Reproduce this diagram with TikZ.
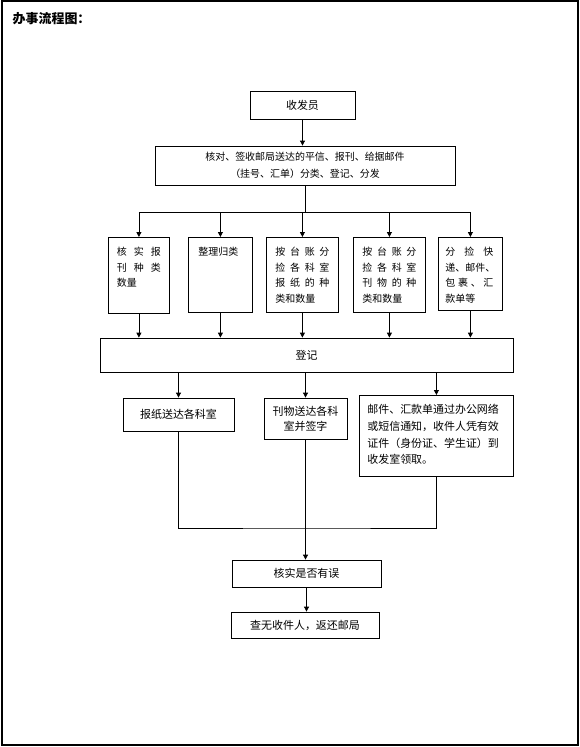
\documentclass[tikz,border=0pt]{standalone}
\usepackage{fontspec}
\setmainfont{Noto Sans CJK SC}
\usetikzlibrary{arrows.meta}
\usetikzlibrary{calc}

% top aligned text in a box of fixed size
\newcommand{\tbox}[3]{\parbox[c][#2][t]{#1}{#3}}
% one line spread over a given width
\newcommand{\jl}[2]{\makebox[#1][s]{#2}}

\begin{document}
\begin{tikzpicture}[x=1bp, y=-1bp, line width=0.8bp]
\tikzstyle{box}=[draw, inner sep=0pt, font=\fontsize{11}{15}\selectfont]
\tikzstyle{kbox}=[box, anchor=north west, inner ysep=10bp, font=\fontsize{10}{15.5}\selectfont]
\tikzstyle{arr}=[-{Triangle[width=5bp,length=5bp]}]
\useasboundingbox (0,0) rectangle (580,747);
\draw[line width=1.2bp] (2,1) rectangle (578,745);
\node[anchor=west, font=\bfseries\fontsize{13}{13}\selectfont] (title) at (9,19) {办事流程图：};

\node[box, minimum width=105bp, minimum height=28bp] (shou) at (302.5,105) {收发员};
\node[box, minimum width=300bp, minimum height=39bp, align=center, font=\fontsize{10}{17}\selectfont] (hedui) at (305,165.5)
  {核对、签收邮局送达的平信、报刊、给据邮件\\（挂号、汇单）分类、登记、分发};

\node[kbox, inner xsep=8.5bp] (k1) at (108,237) {\tbox{44bp}{56bp}{%
  \jl{44bp}{核\hfill 实\hfill 报}\\\jl{44bp}{刊\hfill 种\hfill 类}\\数量}};
\node[kbox, inner xsep=10bp] (k2) at (188,237) {\tbox{44bp}{55bp}{整理归类}};
\node[kbox, inner xsep=9bp] (k3) at (266,237) {\tbox{54bp}{55bp}{%
  \jl{54bp}{按\hfill 台\hfill 账\hfill 分}\\\jl{54bp}{捡\hfill 各\hfill 科\hfill 室}\\%
  \jl{54bp}{报\hfill 纸\hfill 的\hfill 种}\\类和数量}};
\node[kbox, inner xsep=9bp] (k4) at (353,237) {\tbox{54bp}{55bp}{%
  \jl{54bp}{按\hfill 台\hfill 账\hfill 分}\\\jl{54bp}{捡\hfill 各\hfill 科\hfill 室}\\%
  \jl{54bp}{刊\hfill 物\hfill 的\hfill 种}\\类和数量}};
\node[kbox, inner xsep=7bp] (k5) at (438,237) {\tbox{50bp}{53bp}{%
  \jl{48bp}{分\hfill 捡\hfill 快}\\递、邮件、\\\jl{48bp}{包\hfil 裹\hfil 、\hfil 汇}\\款单等}};

\node[box, minimum width=413bp, minimum height=34bp] (dj) at (306.5,355) {登记};

\node[box, minimum width=111bp, minimum height=33bp] (bz) at (178.5,414.5) {报纸送达各科室};
\node[box, minimum width=83bp, minimum height=41bp, align=center] (kw) at (305.5,418.5) {刊物送达各科\\室并签字};
\node[box, anchor=north west, inner xsep=8bp, inner ysep=9bp, font=\fontsize{11}{16.7}\selectfont] (yj) at (359,395)
  {\tbox{138bp}{63bp}{邮件、汇款单通过办公网络\\或短信通知，收件人凭有效\\证件（身份证、学生证）到\\收发室领取。}};

\node[box, minimum width=149bp, minimum height=27bp] (hs) at (306.5,573.5) {核实是否有误};
\node[box, minimum width=148bp, minimum height=26bp] (cw) at (305,625) {查无收件人，返还邮局};

\draw[arr] (shou.south) -- (shou.south |- hedui.north);
\draw (hedui.south) -- ++(0,27) coordinate (bus);
\draw (bus -| k1.north) -- (bus -| k5.north);
\foreach \k in {k1,k2,k3,k4,k5}{
\draw[arr] (bus -| \k.north) -- (\k.north);
\draw[arr] (\k.south) -- (\k.south |- dj.north);}
\foreach \b in {bz,kw,yj}{
\draw[arr] (\b.north |- dj.south) -- (\b.north);}
\coordinate (merge) at (306,528);
\draw (bz.south) |- (merge) -| (yj.south);
\draw[arr] (kw.south) -- (kw.south |- hs.north);
\draw[arr] (hs.south) -- (hs.south |- cw.north);
\end{tikzpicture}
\end{document}
